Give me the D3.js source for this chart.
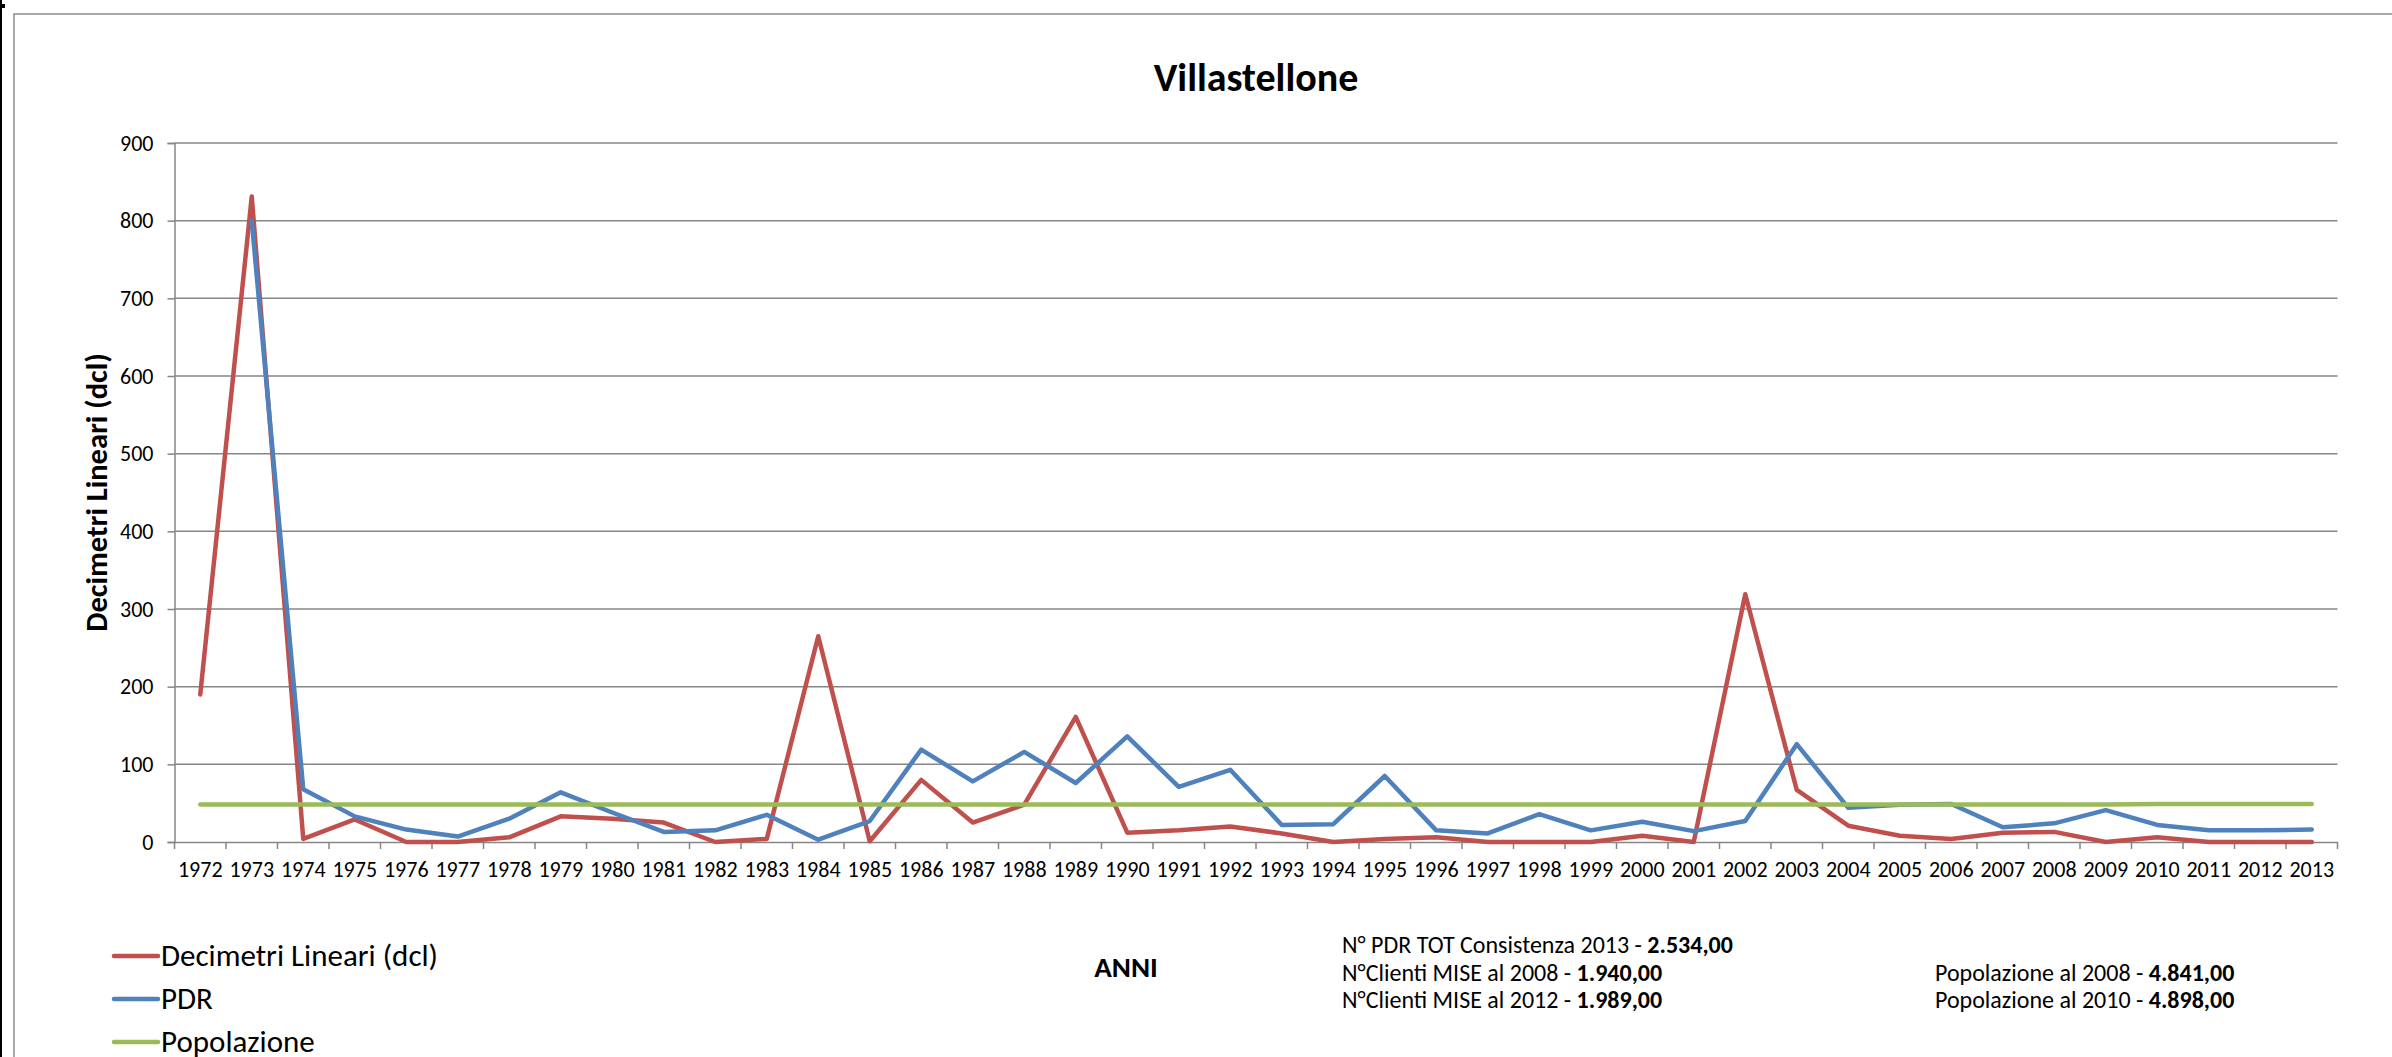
<!DOCTYPE html>
<html>
<head>
<meta charset="utf-8">
<script src="https://cdn.jsdelivr.net/npm/d3@7"></script>
<style>
  html, body { margin: 0; padding: 0; background: #fff; }
  svg { display: block; }
  text { font-family: Carlito, Lato, "Liberation Sans", sans-serif; fill: #000; }
</style>
</head>
<body>
<svg id="chart" width="2392" height="1057"></svg>
<script>
const years = ["1972","1973","1974","1975","1976","1977","1978","1979","1980","1981","1982","1983","1984","1985","1986","1987","1988","1989","1990","1991","1992","1993","1994","1995","1996","1997","1998","1999","2000","2001","2002","2003","2004","2005","2006","2007","2008","2009","2010","2011","2012","2013"];
const decimetri = [190,831,4,29,0,0,6,33,30,25,0,4,265,1,80,25,48,161,12,15,20,11,0,4,6,0,0,0,8,0,319,67,21,8,4,12,13,0,6,0,0,0];
const pdr = [null,800,68,33,16,7,30,64,38,13,15,35,3,27,119,78,116,76,136,71,93,22,23,85,15,11,36,15,26,14,27,126,44,48,49,19,24,41,22,15,15,16];
const popolazione = [48.41,48.41,48.41,48.41,48.41,48.41,48.41,48.41,48.41,48.41,48.41,48.41,48.41,48.41,48.41,48.41,48.41,48.41,48.41,48.41,48.41,48.41,48.41,48.41,48.41,48.41,48.41,48.41,48.41,48.41,48.41,48.41,48.41,48.41,48.41,48.41,48.41,48.41,48.98,48.98,48.98,48.98];
const yTicks = [0,100,200,300,400,500,600,700,800,900];
const seriesNames = ["Decimetri Lineari (dcl)","PDR","Popolazione"];
const seriesColors = ["#C0504D","#4F81BD","#9BBB59"];
const chartTitle = "Villastellone";
const yTitle = "Decimetri Lineari (dcl)";
const xTitle = "ANNI";
const infoLeft = [["N° PDR TOT Consistenza 2013 - ","2.534,00"],["N°Clienti MISE al 2008 - ","1.940,00"],["N°Clienti MISE al 2012 - ","1.989,00"]];
const infoRight = [["Popolazione al 2008 - ","4.841,00"],["Popolazione al 2010 - ","4.898,00"]];

const svg = d3.select("#chart");
const W = 2392, H = 1057;
const plot = {left: 174.5, right: 2337.5, top: 143, bottom: 842};
const gridColor = "#868686";

// left black edge and outer frame
svg.append("rect").attr("x", 0).attr("y", 0).attr("width", 2).attr("height", H).attr("fill", "#000");
svg.append("rect").attr("x", 0).attr("y", 4).attr("width", 5).attr("height", 4).attr("fill", "#000");
svg.append("rect").attr("x", 14).attr("y", 14).attr("width", W + 20).attr("height", H + 20)
  .attr("fill", "none").attr("stroke", "#8c8c8c").attr("stroke-width", 1.5);

const x = d3.scaleBand().domain(years).range([plot.left, plot.right]).paddingInner(0).paddingOuter(0);
const y = d3.scaleLinear().domain([0, 900]).range([plot.bottom, plot.top]);

// gridlines
svg.append("g").selectAll("line").data(yTicks.filter(d => d > 0)).join("line")
  .attr("x1", plot.left).attr("x2", plot.right)
  .attr("y1", d => y(d)).attr("y2", d => y(d))
  .attr("stroke", gridColor).attr("stroke-width", 1.5);

// y axis
const yAxis = d3.axisLeft(y).tickValues(yTicks).tickSize(7).tickPadding(14);
const gy = svg.append("g").attr("transform", `translate(${plot.left},0)`).call(yAxis);
gy.select(".domain").attr("stroke", gridColor).attr("stroke-width", 1.5);
gy.selectAll(".tick line").attr("stroke", gridColor).attr("stroke-width", 1.5);
gy.selectAll(".tick text").style("font-size", "22px").attr("fill", "#000");

// x axis
const xAxis = d3.axisBottom(x).tickSize(0).tickPadding(19.5);
const gx = svg.append("g").attr("transform", `translate(0,${plot.bottom})`).call(xAxis);
gx.select(".domain").attr("stroke", gridColor).attr("stroke-width", 1.5);
gx.selectAll(".tick text").style("font-size", "22px").attr("fill", "#000");
// category boundary tick marks
const bounds = years.map(d => x(d)).concat([x(years[years.length - 1]) + x.bandwidth()]);
svg.append("g").selectAll("line").data(bounds).join("line")
  .attr("x1", d => d).attr("x2", d => d)
  .attr("y1", plot.bottom).attr("y2", plot.bottom + 7)
  .attr("stroke", gridColor).attr("stroke-width", 1.5);

// lines
const cx = i => x(years[i]) + x.bandwidth() / 2;
const lineGen = d3.line().defined(d => d !== null).x((d, i) => cx(i)).y(d => y(d));
[decimetri, pdr, popolazione].forEach((s, k) => {
  svg.append("path").datum(s)
    .attr("d", lineGen)
    .attr("fill", "none")
    .attr("stroke", seriesColors[k])
    .attr("stroke-width", 4.5)
    .attr("stroke-linejoin", "round")
    .attr("stroke-linecap", "round");
});

// title
svg.append("text").attr("x", 1256).attr("y", 91).attr("text-anchor", "middle")
  .style("font-size", "40px").style("font-weight", "bold").text(chartTitle);

// y title
svg.append("text").attr("transform", `translate(107,${(plot.top + plot.bottom) / 2}) rotate(-90)`)
  .attr("text-anchor", "middle").style("font-size", "30.5px").style("font-weight", "bold").text(yTitle);

// x title
svg.append("text").attr("x", 1126).attr("y", 977).attr("text-anchor", "middle")
  .style("font-size", "29px").style("font-weight", "bold").text(xTitle);

// legend
const legY = [956, 999, 1042];
const leg = svg.append("g");
seriesNames.forEach((n, i) => {
  leg.append("line").attr("x1", 114).attr("x2", 158).attr("y1", legY[i]).attr("y2", legY[i])
    .attr("stroke", seriesColors[i]).attr("stroke-width", 4.5).attr("stroke-linecap", "round");
  leg.append("text").attr("x", 161).attr("y", legY[i] + 10).style("font-size", "31px").text(n);
});

// info text
const infoBase = [953, 981, 1008];
infoLeft.forEach((t, i) => {
  const tx = svg.append("text").attr("x", 1342).attr("y", infoBase[i]).style("font-size", "24px");
  tx.append("tspan").text(t[0]);
  tx.append("tspan").style("font-weight", "bold").text(t[1]);
});
infoRight.forEach((t, i) => {
  const tx = svg.append("text").attr("x", 1935).attr("y", infoBase[i + 1]).style("font-size", "24px");
  tx.append("tspan").text(t[0]);
  tx.append("tspan").style("font-weight", "bold").text(t[1]);
});
</script>
</body>
</html>
